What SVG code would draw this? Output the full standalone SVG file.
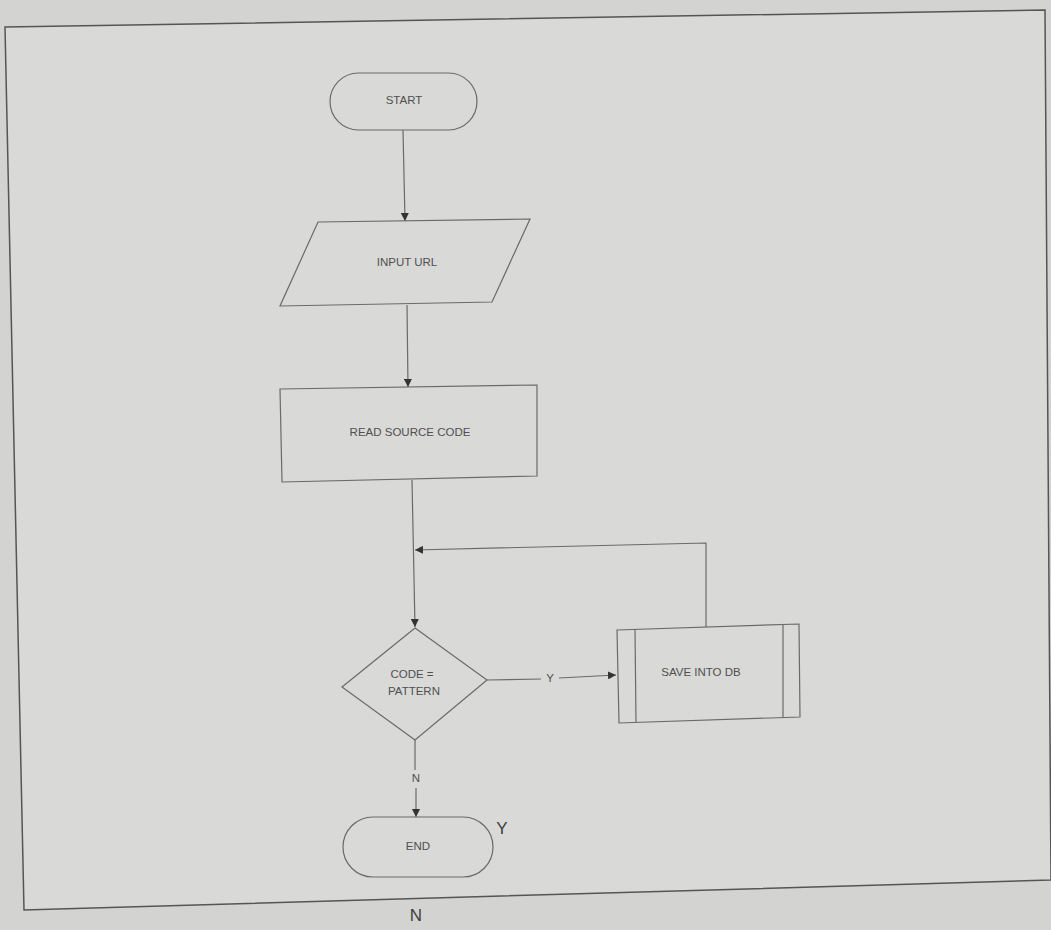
<svg xmlns="http://www.w3.org/2000/svg" width="1051" height="930" viewBox="0 0 1051 930">
<defs>
<marker id="ah" viewBox="0 0 10 10" refX="10" refY="5" markerWidth="8" markerHeight="8" orient="auto" markerUnits="userSpaceOnUse">
<path d="M0,0 L10,5 L0,10 z" fill="#333"/>
</marker>
</defs>
<style>
.shape{fill:none;stroke:#6a6a6a;stroke-width:1.2}
.line{fill:none;stroke:#6a6a6a;stroke-width:1.2}
.t{font-family:"Liberation Sans",Arial,sans-serif;font-size:11.5px;fill:#505050;text-anchor:middle;dominant-baseline:middle}
.big{font-family:"Liberation Sans",Arial,sans-serif;font-size:17px;fill:#404040;text-anchor:middle;dominant-baseline:middle}
</style>
<rect x="0" y="0" width="1051" height="930" fill="#d3d3d1"/>
<polygon points="5,27 1045,10 1051,880 24,910" fill="#d9d9d7" stroke="#555" stroke-width="1.5"/>
<g id="connectors">
<line class="line" x1="403" y1="130" x2="405" y2="221" marker-end="url(#ah)"/>
<line class="line" x1="407" y1="305" x2="408" y2="387" marker-end="url(#ah)"/>
<line class="line" x1="412" y1="480" x2="415" y2="627" marker-end="url(#ah)"/>
<polyline class="line" points="706,627 706,543 415,550" marker-end="url(#ah)"/>
<line class="line" x1="487" y1="680" x2="541" y2="679"/>
<line class="line" x1="559" y1="678" x2="616" y2="675" marker-end="url(#ah)"/>
<text class="t" x="550" y="679">Y</text>
<line class="line" x1="415" y1="740" x2="415" y2="770"/>
<line class="line" x1="416" y1="788" x2="416" y2="817" marker-end="url(#ah)"/>
<text class="t" x="416" y="779">N</text>
</g>
<g id="start">
<rect class="shape" x="330" y="73" width="147" height="57" rx="28.5"/>
<text class="t" x="404" y="101">START</text>
</g>
<g id="input-url">
<polygon class="shape" points="318,222 530,219 492,302 280,306"/>
<text class="t" x="407" y="263">INPUT URL</text>
</g>
<g id="read-source">
<polygon class="shape" points="280,389 537,385 537,476 282,482"/>
<text class="t" x="410" y="433">READ SOURCE CODE</text>
</g>
<g id="decision">
<polygon class="shape" points="415,628 487,680 415,740 342,687"/>
<text class="t" x="412" y="675">CODE =</text>
<text class="t" x="414" y="692">PATTERN</text>
</g>
<g id="save-db">
<polygon class="shape" points="617,630 799,624 800,717 619,723"/>
<line class="shape" x1="635" y1="629" x2="636" y2="722"/>
<line class="shape" x1="783" y1="625" x2="783" y2="718"/>
<text class="t" x="701" y="673">SAVE INTO DB</text>
</g>
<g id="end">
<rect class="shape" x="343" y="817" width="150" height="60" rx="30"/>
<text class="t" x="418" y="847">END</text>
</g>
<text class="big" x="502" y="830">Y</text>
<text class="big" x="416" y="917">N</text>
</svg>
